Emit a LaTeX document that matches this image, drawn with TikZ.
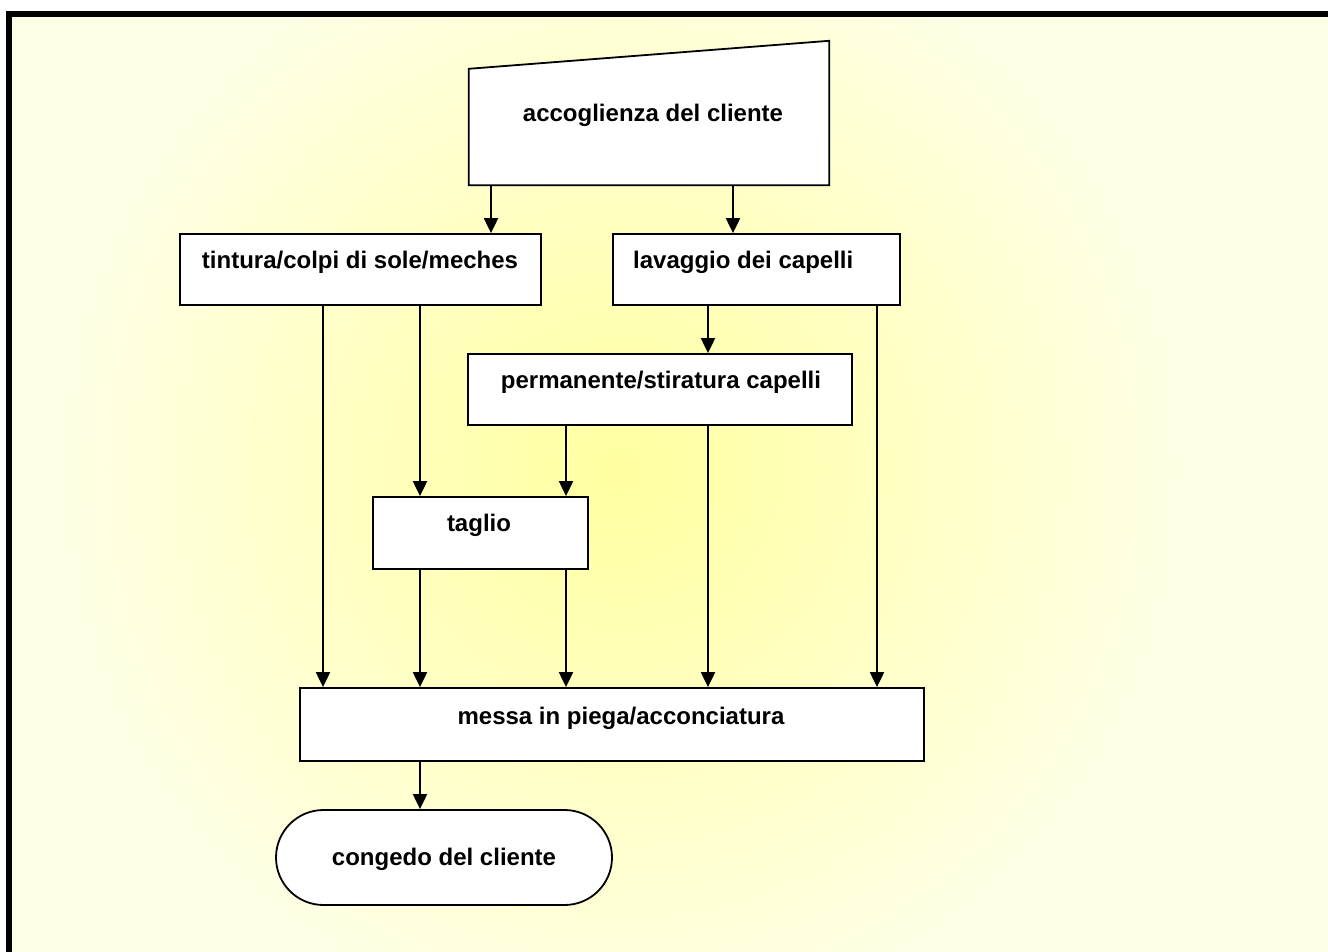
\documentclass[tikz,border=0pt]{standalone}
\usepackage{fontspec}
\setmainfont{Liberation Sans}
\usetikzlibrary{arrows.meta,shapes.misc}
\definecolor{bgout}{RGB}{255,255,230}
\definecolor{bgin}{RGB}{255,255,160}
\begin{document}
\begin{tikzpicture}[x=1pt,y=-1pt,
  boxs/.style={draw=black, line width=1.8pt, fill=white, rectangle, inner sep=0pt},
  lbl/.style={font=\bfseries\fontsize{24}{28}\selectfont, inner sep=0pt, text height=17pt, text depth=0pt},
  arr/.style={line width=2pt, -{Triangle[length=15pt,width=14pt]}}]
\useasboundingbox (0,0) rectangle (1328,952);
\fill[white] (0,0) rectangle (1328,952);
% background
\fill[bgout] (12,17) rectangle (1328,952);
\begin{scope}
\clip (12,17) rectangle (1328,952);
\shade[inner color=bgin, outer color=bgout] (620,470) circle[radius=560];
\end{scope}
\draw[line width=6pt] (1340,14) -- (9,14) -- (9,960);
% nodes
\node[minimum width=360pt, minimum height=144pt, inner sep=0pt] (acc) at (649,113) {};
\draw[line width=1.8pt, fill=white] (acc.south west) -- ([yshift=-28pt]acc.north west) -- (acc.north east) -- (acc.south east) -- cycle;
\node[lbl] (accT) at (653,113) {accoglienza del cliente};
\node[boxs, minimum width=361pt, minimum height=71pt] (tint) at (360.5,269.5) {};
\node[lbl] (tintT) at (360,260) {tintura/colpi di sole/meches};
\node[boxs, minimum width=287pt, minimum height=71pt] (lav) at (756.5,269.5) {};
\node[lbl, anchor=west] (lavT) at (633,260) {lavaggio dei capelli};
\node[boxs, minimum width=384pt, minimum height=71pt] (perm) at (660,389.5) {};
\node[lbl] (permT) at (661,380) {permanente/stiratura capelli};
\node[boxs, minimum width=215pt, minimum height=72pt] (tag) at (480.5,533) {};
\node[lbl] (tagT) at (479,523) {taglio};
\node[boxs, minimum width=624pt, minimum height=73pt] (messa) at (612,724.5) {};
\node[lbl] (messaT) at (621,716) {messa in piega/acconciatura};
\node[draw=black, line width=1.8pt, fill=white, rounded rectangle, minimum width=336pt, minimum height=95pt, inner sep=0pt] (cong) at (444,857.5) {};
\node[lbl] (congT) at (444,857) {congedo del cliente};
% connectors
\draw[arr] ([xshift=-158pt]acc.south) -- ([xshift=130.5pt]tint.north);
\draw[arr] ([xshift=84pt]acc.south) -- ([xshift=-23.5pt]lav.north);
\draw[arr] ([xshift=-37.5pt]tint.south) -- ([xshift=-289pt]messa.north);
\draw[arr] ([xshift=59.5pt]tint.south) -- ([xshift=-60.5pt]tag.north);
\draw[arr] ([xshift=-48.5pt]lav.south) -- ([xshift=48pt]perm.north);
\draw[arr] ([xshift=120.5pt]lav.south) -- ([xshift=265pt]messa.north);
\draw[arr] ([xshift=-94pt]perm.south) -- ([xshift=85.5pt]tag.north);
\draw[arr] ([xshift=48pt]perm.south) -- ([xshift=96pt]messa.north);
\draw[arr] ([xshift=-60.5pt]tag.south) -- ([xshift=-192pt]messa.north);
\draw[arr] ([xshift=85.5pt]tag.south) -- ([xshift=-46pt]messa.north);
\draw[arr] ([xshift=-192pt]messa.south) -- ([xshift=-24pt]cong.north);
\end{tikzpicture}
\end{document}
